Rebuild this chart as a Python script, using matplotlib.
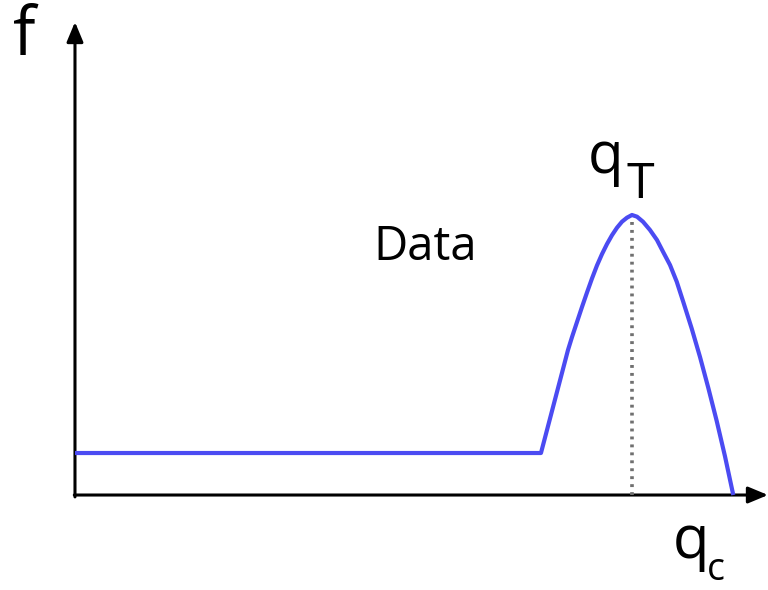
import matplotlib
matplotlib.use("Agg")
import matplotlib.pyplot as plt
from matplotlib.patches import FancyArrowPatch

plt.rcParams['font.family'] = ['Open Sans', 'DejaVu Sans']

# curve f(q_c) (x: 0..100 along q_c axis, y: 0..100 along f axis)
curve_x = [0.0, 67.24, 71.14, 71.72, 72.44, 73.16, 73.88, 74.60, 75.32, 76.05, 76.77,
           77.49, 78.21, 78.93, 79.65, 80.37, 81.10, 81.96, 82.97, 83.98, 84.85, 85.86,
           86.83, 87.78, 88.99, 90.19, 91.39, 92.60, 93.80, 94.99]
curve_y = [8.88, 8.88, 30.66, 33.40, 36.58, 39.75, 42.81, 45.77, 48.52, 50.95, 53.07,
           54.93, 56.51, 57.78, 58.63, 59.20, 58.84, 57.78, 56.03, 53.91, 51.44, 48.63,
           45.10, 40.80, 35.20, 29.18, 22.62, 15.64, 8.14, 0.0]
peak_x = 80.37
peak_y = 58.6

fig = plt.figure(figsize=(7.68, 5.9), dpi=100)
ax = fig.add_axes([0, 0, 1, 1])
ax.set_xlim(-10.82, 100.0)
ax.set_ylim(-20.08, 104.65)
ax.axis('off')

# axes arrows
style = "-|>,head_length=0.6,head_width=0.25"
ax.add_patch(FancyArrowPatch((0, -0.4), (0, 100), arrowstyle=style, mutation_scale=20,
                             color='black', lw=2.2, shrinkA=0, shrinkB=0, clip_on=False))
ax.add_patch(FancyArrowPatch((-0.1, 0), (100, 0), arrowstyle=style, mutation_scale=20,
                             color='black', lw=2.2, shrinkA=0, shrinkB=0, clip_on=False))

ax.plot([peak_x, peak_x], [0, peak_y], color='#707070', lw=2.6, linestyle=(0, (0.8, 1.4)), zorder=2)
ax.plot(curve_x, curve_y, color='#4B4BF2', lw=3.0, solid_joinstyle='round',
        solid_capstyle='butt', zorder=3)

ax.text(-7.3, 93.0, 'f', fontsize=48, ha='center', va='baseline')
ax.text(50.5, 49.7, 'Data', fontsize=34, ha='center', va='baseline')
ax.text(74.0, 68.1, 'q', fontsize=42, ha='left', va='baseline')
ax.text(79.6, 62.8, 'T', fontsize=36, ha='left', va='baseline')
ax.text(86.3, -13.3, 'q', fontsize=43, ha='left', va='baseline')
ax.text(91.2, -17.9, 'c', fontsize=27, ha='left', va='baseline')

fig.savefig('out.png', dpi=100)
